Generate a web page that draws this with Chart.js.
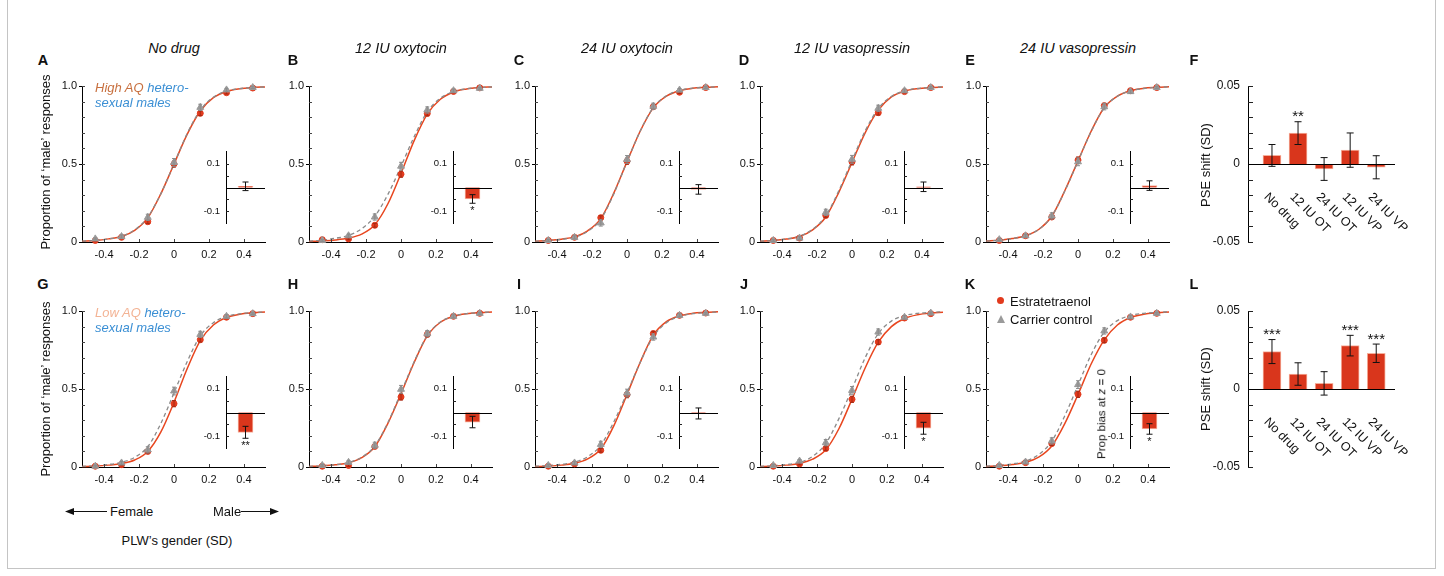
<!DOCTYPE html>
<html>
<head>
<meta charset="utf-8">
<script src="https://cdn.jsdelivr.net/npm/chart.js@4.4.1/dist/chart.umd.min.js"></script>
<style>
  body { margin: 0; background: #fff; }
  #fig { position: relative; width: 1444px; height: 576px; overflow: hidden;
         font-family: "Liberation Sans", Arial, Helvetica, sans-serif; color: #111; }
  #fig canvas { position: absolute; }
  .abs { position: absolute; white-space: nowrap; line-height: 1; }
  #frame { position: absolute; left: 7px; top: -2px; width: 1429px; height: 571px;
           border: 1px solid #c4c4c4; box-sizing: border-box; }
</style>
</head>
<body>
<div id="fig"><div id="frame"></div></div>
<script>
// ---- data ----
const panelIds = ["A", "B", "C", "D", "E", "G", "H", "I", "J", "K"];
const titles = ["No drug", "12 IU oxytocin", "24 IU oxytocin", "12 IU vasopressin", "24 IU vasopressin"];
const stimLevels = [-0.45, -0.3, -0.15, 0, 0.15, 0.3, 0.45];
const xTicks = [-0.4, -0.2, 0, 0.2, 0.4];
const yTicks = [0, 0.5, 1];
const yMinor = [0.1, 0.2, 0.3, 0.4, 0.5, 0.6, 0.7, 0.8, 0.9, 1];

// proportion 'male' at each stimulus level (estratetraenol / carrier), panels A..E, G..K
const redPoints = [
  [0.01, 0.03, 0.13, 0.50, 0.825, 0.957, 0.987],
  [0.015, 0.02, 0.107, 0.435, 0.824, 0.965, 0.988],
  [0.01, 0.03, 0.156, 0.518, 0.867, 0.96, 0.99],
  [0.01, 0.025, 0.17, 0.514, 0.829, 0.964, 0.99],
  [0.01, 0.04, 0.16, 0.525, 0.874, 0.97, 0.99],
  [0.005, 0.015, 0.10, 0.406, 0.816, 0.96, 0.983],
  [0.005, 0.01, 0.132, 0.449, 0.85, 0.966, 0.985],
  [0.005, 0.02, 0.107, 0.464, 0.855, 0.972, 0.987],
  [0.005, 0.02, 0.118, 0.434, 0.801, 0.955, 0.983],
  [0.005, 0.028, 0.15, 0.466, 0.812, 0.96, 0.985]
];
const grayPoints = [
  [0.02, 0.035, 0.158, 0.51, 0.863, 0.975, 0.99],
  [0.01, 0.04, 0.16, 0.486, 0.846, 0.97, 0.985],
  [0.01, 0.03, 0.122, 0.529, 0.87, 0.974, 0.99],
  [0.01, 0.025, 0.19, 0.53, 0.857, 0.97, 0.99],
  [0.015, 0.04, 0.167, 0.514, 0.867, 0.964, 0.99],
  [0.005, 0.026, 0.11, 0.487, 0.85, 0.966, 0.983],
  [0.01, 0.03, 0.139, 0.498, 0.855, 0.966, 0.985],
  [0.01, 0.026, 0.145, 0.474, 0.833, 0.972, 0.985],
  [0.01, 0.038, 0.156, 0.491, 0.865, 0.96, 0.987],
  [0.01, 0.032, 0.167, 0.528, 0.872, 0.962, 0.985]
];
const redErr = [0.004, 0.006, 0.012, 0.02, 0.015, 0.008, 0.004];
const grayErr = [0.006, 0.01, 0.02, 0.025, 0.02, 0.01, 0.006];

// fitted curves
const curveX = [-0.525, -0.45, -0.375, -0.3, -0.225, -0.15, -0.075, 0, 0.075, 0.15, 0.225, 0.3, 0.375, 0.45, 0.52];
const redCurves = [
  [0.005, 0.01, 0.02, 0.035, 0.075, 0.155, 0.31, 0.5, 0.69, 0.84, 0.925, 0.965, 0.982, 0.99, 0.994],
  [0.003, 0.007, 0.013, 0.025, 0.05, 0.11, 0.245, 0.44, 0.65, 0.82, 0.915, 0.962, 0.981, 0.99, 0.994],
  [0.005, 0.01, 0.018, 0.033, 0.072, 0.15, 0.315, 0.515, 0.71, 0.86, 0.935, 0.97, 0.985, 0.991, 0.995],
  [0.005, 0.01, 0.019, 0.035, 0.078, 0.16, 0.32, 0.51, 0.7, 0.845, 0.93, 0.967, 0.983, 0.99, 0.994],
  [0.006, 0.012, 0.022, 0.04, 0.08, 0.165, 0.33, 0.52, 0.71, 0.862, 0.935, 0.97, 0.985, 0.991, 0.995],
  [0.003, 0.006, 0.012, 0.022, 0.045, 0.1, 0.225, 0.415, 0.63, 0.81, 0.91, 0.958, 0.979, 0.988, 0.993],
  [0.003, 0.007, 0.014, 0.027, 0.06, 0.13, 0.28, 0.47, 0.67, 0.84, 0.928, 0.966, 0.983, 0.99, 0.994],
  [0.003, 0.006, 0.012, 0.024, 0.052, 0.115, 0.265, 0.465, 0.67, 0.845, 0.932, 0.969, 0.985, 0.991, 0.995],
  [0.003, 0.006, 0.012, 0.023, 0.05, 0.11, 0.245, 0.435, 0.635, 0.8, 0.9, 0.952, 0.976, 0.987, 0.992],
  [0.004, 0.008, 0.016, 0.03, 0.063, 0.135, 0.28, 0.465, 0.66, 0.815, 0.91, 0.958, 0.979, 0.988, 0.993]
];
const grayCurves = [
  [0.005, 0.01, 0.02, 0.036, 0.078, 0.16, 0.31, 0.5, 0.695, 0.845, 0.928, 0.967, 0.983, 0.99, 0.994],
  [0.006, 0.012, 0.024, 0.042, 0.085, 0.165, 0.305, 0.485, 0.675, 0.835, 0.922, 0.964, 0.982, 0.99, 0.994],
  [0.005, 0.009, 0.017, 0.031, 0.068, 0.145, 0.31, 0.515, 0.71, 0.862, 0.937, 0.972, 0.986, 0.992, 0.995],
  [0.005, 0.01, 0.02, 0.037, 0.082, 0.168, 0.33, 0.522, 0.712, 0.855, 0.933, 0.969, 0.984, 0.991, 0.995],
  [0.006, 0.012, 0.022, 0.04, 0.08, 0.165, 0.328, 0.518, 0.708, 0.86, 0.934, 0.969, 0.984, 0.991, 0.995],
  [0.004, 0.008, 0.016, 0.03, 0.062, 0.13, 0.28, 0.475, 0.675, 0.84, 0.925, 0.965, 0.982, 0.99, 0.994],
  [0.004, 0.008, 0.015, 0.028, 0.062, 0.135, 0.285, 0.478, 0.675, 0.843, 0.93, 0.967, 0.983, 0.99, 0.994],
  [0.005, 0.009, 0.017, 0.031, 0.066, 0.14, 0.29, 0.475, 0.67, 0.835, 0.925, 0.965, 0.983, 0.99, 0.994],
  [0.004, 0.008, 0.016, 0.03, 0.068, 0.15, 0.31, 0.5, 0.7, 0.855, 0.935, 0.97, 0.985, 0.991, 0.995],
  [0.005, 0.01, 0.02, 0.037, 0.08, 0.165, 0.33, 0.525, 0.72, 0.865, 0.938, 0.971, 0.985, 0.991, 0.995]
];

// inset: prop bias at z = 0
const insetBias = [0.005, -0.048, -0.008, 0.003, 0.008, -0.083, -0.04, -0.004, -0.066, -0.069];
const insetErr = [0.018, 0.018, 0.02, 0.02, 0.02, 0.025, 0.024, 0.023, 0.025, 0.022];
const insetStars = ["", "*", "", "", "", "**", "", "", "*", "*"];
const insetTicks = [-0.1, 0.1];
const insetMinor = [-0.1, -0.05, 0.05, 0.1];

// PSE shift panels F (high AQ) and L (low AQ)
const drugLabels = ["No drug", "12 IU OT", "24 IU OT", "12 IU VP", "24 IU VP"];
const pseHigh = [0.0055, 0.0198, -0.0032, 0.0089, -0.0021];
const pseHighErr = [0.007, 0.0073, 0.0073, 0.011, 0.0074];
const pseHighStars = ["", "**", "", "", ""];
const pseLow = [0.024, 0.0096, 0.0036, 0.0278, 0.0229];
const pseLowErr = [0.0077, 0.0072, 0.0075, 0.0066, 0.0059];
const pseLowStars = ["***", "", "", "***", "***"];
const pseTicks = [-0.05, 0, 0.05];
const pseMinor = [-0.05, -0.04, -0.03, -0.02, -0.01, 0.01, 0.02, 0.03, 0.04, 0.05];

// ---- style / layout ----
const RED = "#e23a1d";
const RED_LINE = "#e8461f";
const BAR_RED = "#d9361c";
const BAR_EDGE = "#f6b09c";
const GRAY = "#9a9a9a";
const GRAY_LINE = "#8a8a8a";
const FONT = "'Liberation Sans', Arial, Helvetica, sans-serif";

const colX = [82, 309, 535, 760, 986];
const rowTop = [86, 311];
const PLOT_W = 183, PLOT_H = 156;

Chart.defaults.font.family = FONT;
Chart.defaults.color = "#111";

const fig = document.getElementById("fig");

function addCanvas(left, top, w, h) {
  const cv = document.createElement("canvas");
  cv.width = w;
  cv.height = h;
  cv.style.left = left + "px";
  cv.style.top = top + "px";
  cv.style.width = w + "px";
  cv.style.height = h + "px";
  fig.appendChild(cv);
  return cv;
}

function addText(html, x, y, css) {
  const d = document.createElement("div");
  d.className = "abs";
  d.innerHTML = html;
  d.style.left = x + "px";
  d.style.top = y + "px";
  Object.assign(d.style, css || {});
  fig.appendChild(d);
  return d;
}

// error bars + significance stars from dataset.errs / dataset.stars
Chart.register({
  id: "errorBars",
  afterDatasetDraw(chart, args) {
    const ds = chart.data.datasets[args.index];
    if (!ds.errs) return;
    const ctx = chart.ctx;
    const ys = chart.scales.y;
    ctx.save();
    ctx.strokeStyle = ds.errColor || "#000";
    ctx.lineWidth = 1;
    args.meta.data.forEach((el, i) => {
      const raw = ds.data[i];
      const v = typeof raw === "object" ? raw.y : raw;
      const e = ds.errs[i];
      const y1 = ys.getPixelForValue(v + e);
      const y2 = ys.getPixelForValue(v - e);
      const x = el.x, c = ds.capW || 2;
      ctx.beginPath();
      ctx.moveTo(x, y1); ctx.lineTo(x, y2);
      ctx.moveTo(x - c, y1); ctx.lineTo(x + c, y1);
      ctx.moveTo(x - c, y2); ctx.lineTo(x + c, y2);
      ctx.stroke();
      if (ds.stars && ds.stars[i]) {
        const fs = ds.starSize || 12;
        ctx.fillStyle = "#111";
        ctx.font = fs + "px " + FONT;
        ctx.textAlign = "center";
        ctx.textBaseline = "alphabetic";
        const ty = v >= 0 ? y1 - 7 + 0.43 * fs : y2 + 3 + 0.72 * fs;
        ctx.fillText(ds.stars[i], x, ty);
      }
    });
    ctx.restore();
  }
});

// inward tick marks, zero line and rotated category labels
function extras(id, o) {
  return {
    id: id,
    afterDraw(chart) {
      const ctx = chart.ctx, a = chart.chartArea;
      ctx.save();
      ctx.lineWidth = 1;
      if (o.zero) {
        const y0 = Math.round(chart.scales.y.getPixelForValue(0)) + 0.5;
        ctx.strokeStyle = "#000";
        ctx.beginPath();
        ctx.moveTo(a.left, y0); ctx.lineTo(a.right, y0);
        ctx.stroke();
      }
      ctx.strokeStyle = o.tickColor || "#222";
      (o.yIn || []).forEach(v => {
        const y = Math.round(chart.scales.y.getPixelForValue(v)) + 0.5;
        ctx.beginPath();
        ctx.moveTo(a.left, y); ctx.lineTo(a.left + o.len, y);
        ctx.stroke();
      });
      (o.xIn || []).forEach(v => {
        const x = Math.round(chart.scales.x.getPixelForValue(v)) + 0.5;
        ctx.beginPath();
        ctx.moveTo(x, a.bottom); ctx.lineTo(x, a.bottom - o.len);
        ctx.stroke();
      });
      if (o.cats) {
        const y0 = chart.scales.y.getPixelForValue(0);
        ctx.fillStyle = "#111";
        ctx.font = "12.5px " + FONT;
        ctx.textAlign = "left";
        ctx.textBaseline = "middle";
        o.cats.forEach((lab, i) => {
          const x = chart.scales.x.getPixelForValue(i);
          ctx.save();
          ctx.translate(x - 6, y0 + 31);
          ctx.rotate(Math.PI / 4);
          ctx.fillText(lab, 0, 0);
          ctx.restore();
        });
      }
      ctx.restore();
    }
  };
}

const base = {
  responsive: false,
  animation: false,
  events: [],
  plugins: { legend: { display: false }, tooltip: { enabled: false } }
};

// ---- psychometric panels ----
panelIds.forEach((pid, p) => {
  const col = p % 5, row = p < 5 ? 0 : 1;
  const left = colX[col], top = rowTop[row];
  const pts = arr => stimLevels.map((x, i) => ({ x: x, y: arr[i] }));
  const crv = arr => curveX.map((x, i) => ({ x: x, y: arr[i] }));

  const cv = addCanvas(left - 34, top - 10, 34 + PLOT_W + 8, 10 + PLOT_H + 24);
  new Chart(cv, {
    type: "line",
    data: {
      datasets: [
        { data: pts(grayPoints[p]), showLine: false, pointStyle: "triangle", pointRadius: 4,
          backgroundColor: GRAY, borderColor: GRAY, borderWidth: 1, errs: grayErr,
          errColor: "#8c8c8c", capW: 2, order: 0, clip: false },
        { data: pts(redPoints[p]), showLine: false, pointStyle: "circle", pointRadius: 3,
          backgroundColor: RED, borderColor: RED, borderWidth: 1, errs: redErr,
          errColor: "#a52a14", capW: 2, order: 1, clip: false },
        { data: crv(grayCurves[p]), borderColor: GRAY_LINE, borderDash: [4, 3], borderWidth: 1.3,
          pointRadius: 0, cubicInterpolationMode: "monotone", order: 2, clip: false },
        { data: crv(redCurves[p]), borderColor: RED_LINE, borderWidth: 1.5,
          pointRadius: 0, cubicInterpolationMode: "monotone", order: 3, clip: false }
      ]
    },
    options: Object.assign({}, base, {
      layout: { padding: { top: 10, right: 8, left: 0, bottom: 0 } },
      scales: {
        x: {
          type: "linear", min: -0.526, max: 0.52,
          afterBuildTicks: s => { s.ticks = xTicks.map(v => ({ value: v })); },
          afterFit: s => { s.height = 24; },
          grid: { display: false, drawTicks: false },
          border: { display: true, color: "#000", width: 1 },
          ticks: { font: { size: 11 }, color: "#111", padding: 6, autoSkip: false, maxRotation: 0,
                   callback: v => String(v) }
        },
        y: {
          min: 0, max: 1,
          afterBuildTicks: s => { s.ticks = yTicks.map(v => ({ value: v })); },
          afterFit: s => { s.width = 34; },
          grid: { display: true, drawOnChartArea: false, drawTicks: true, tickLength: 3, color: "#000" },
          border: { display: true, color: "#000", width: 1 },
          ticks: { font: { size: 11 }, color: "#111", padding: 2,
                   callback: v => (v === 1 ? "1.0" : String(v)) }
        }
      }
    }),
    plugins: [extras("in" + pid, { xIn: xTicks, yIn: yMinor, len: 3, tickColor: "#444" })]
  });

  // inset bar
  const ic = addCanvas(left + 144 - 24, top + PLOT_H - 98.5 - 4, 24 + 39 + 1, 87 + 8);
  new Chart(ic, {
    type: "bar",
    data: {
      labels: [""],
      datasets: [{ data: [insetBias[p]], backgroundColor: BAR_RED, borderColor: BAR_EDGE,
                   borderWidth: 1, barThickness: 15, errs: [insetErr[p]], stars: [insetStars[p]],
                   starSize: 11, capW: 3, errColor: "#111" }]
    },
    options: Object.assign({}, base, {
      layout: { padding: { top: 4, bottom: 4, right: 1, left: 0 } },
      scales: {
        x: { display: false, offset: true },
        y: {
          min: -0.15, max: 0.15,
          afterBuildTicks: s => { s.ticks = insetTicks.map(v => ({ value: v })); },
          afterFit: s => { s.width = 24; },
          grid: { display: false, drawTicks: false },
          border: { display: true, color: "#000", width: 1 },
          ticks: { font: { size: 9.5 }, color: "#111", padding: 6, callback: v => String(v) }
        }
      }
    }),
    plugins: [extras("inset" + pid, { zero: true, yIn: insetMinor, len: 3 })]
  });
});

// ---- PSE shift bar panels ----
[[pseHigh, pseHighErr, pseHighStars], [pseLow, pseLowErr, pseLowStars]].forEach((set, row) => {
  const cv = addCanvas(1248 - 44, rowTop[row] - 18, 44 + 147 + 50, 18 + PLOT_H + 18);
  new Chart(cv, {
    type: "bar",
    data: {
      datasets: [{
        data: drugLabels.map((lab, i) => ({ x: i, y: set[0][i] })),
        backgroundColor: BAR_RED, borderColor: BAR_EDGE, borderWidth: 1, barThickness: 18,
        errs: set[1], stars: set[2], starSize: 15, capW: 3.5, errColor: "#111"
      }]
    },
    options: Object.assign({}, base, {
      layout: { padding: { top: 18, bottom: 18, right: 50, left: 0 } },
      scales: {
        x: { type: "linear", min: -0.92, max: 4.72, display: false, offset: false },
        y: {
          min: -0.05, max: 0.05,
          afterBuildTicks: s => { s.ticks = pseTicks.map(v => ({ value: v })); },
          afterFit: s => { s.width = 44; },
          grid: { display: false, drawTicks: false },
          border: { display: true, color: "#000", width: 1 },
          ticks: { font: { size: 12 }, color: "#111", padding: 8,
                   callback: v => (v === 0 ? "0" : v.toFixed(2)) }
        }
      }
    }),
    plugins: [extras("pse" + row, { zero: true, yIn: pseMinor, len: 5, cats: drugLabels })]
  });
});

// ---- text ----
const center = { transform: "translate(-50%,-50%)" };
const vmid = { transform: "translateY(-50%)" };
const rot = { transform: "translate(-50%,-50%) rotate(-90deg)" };

titles.forEach((t, i) => {
  addText(t, colX[i] + 92, 48, Object.assign({ fontStyle: "italic", fontSize: "14.5px" }, center));
});

const letterX = [43, 293, 519, 744, 970, 1194];
[["A", "B", "C", "D", "E", "F"], ["G", "H", "I", "J", "K", "L"]].forEach((row, r) => {
  row.forEach((l, i) => {
    addText(l, letterX[i], r === 0 ? 60 : 284,
            Object.assign({ fontWeight: "bold", fontSize: "14.5px" }, center));
  });
});

addText("Proportion of \u2018male\u2019 responses", 45, 162, Object.assign({ fontSize: "13px" }, rot));
addText("Proportion of \u2018male\u2019 responses", 45, 389, Object.assign({ fontSize: "13px" }, rot));
addText("PSE shift (SD)", 1205, 165, Object.assign({ fontSize: "13px" }, rot));
addText("PSE shift (SD)", 1205, 389, Object.assign({ fontSize: "13px" }, rot));
addText("Prop bias at <i>z</i> = 0", 1102, 414, Object.assign({ fontSize: "11.5px" }, rot));

const legendCss = Object.assign({ fontStyle: "italic", fontSize: "13px", color: "#3b8fd4" }, vmid);
addText('<span style="color:#c8703f">High AQ</span> hetero-', 95, 87, legendCss);
addText("sexual males", 95, 102, legendCss);
addText('<span style="color:#f3b394">Low AQ</span> hetero-', 95, 312, legendCss);
addText("sexual males", 95, 327, legendCss);

// marker legend in K
const dot = document.createElement("div");
Object.assign(dot.style, { position: "absolute", left: "997px", top: "297px", width: "7px", height: "7px",
                           borderRadius: "50%", background: RED });
fig.appendChild(dot);
const tri = document.createElement("div");
Object.assign(tri.style, { position: "absolute", left: "996.5px", top: "314.5px", width: "0", height: "0",
                           borderLeft: "4.5px solid transparent", borderRight: "4.5px solid transparent",
                           borderBottom: "8px solid " + GRAY });
fig.appendChild(tri);
addText("Estratetraenol", 1010, 301, Object.assign({ fontSize: "13px" }, vmid));
addText("Carrier control", 1010, 319, Object.assign({ fontSize: "13px" }, vmid));

// gender direction arrows
addText("Female", 110, 511, Object.assign({ fontSize: "13px" }, vmid));
addText("Male", 213, 511, Object.assign({ fontSize: "13px" }, vmid));
addText("PLW\u2019s gender (SD)", 177, 540, Object.assign({ fontSize: "13px" }, center));
const svgNS = "http://www.w3.org/2000/svg";
const svg = document.createElementNS(svgNS, "svg");
svg.setAttribute("width", "300");
svg.setAttribute("height", "30");
svg.style.position = "absolute";
svg.style.left = "0px";
svg.style.top = "496px";
svg.innerHTML =
  '<line x1="70" y1="15.5" x2="107" y2="15.5" stroke="#111" stroke-width="1.2"/>' +
  '<polygon points="65,15.5 74,12 74,19" fill="#111"/>' +
  '<line x1="241" y1="15.5" x2="274" y2="15.5" stroke="#111" stroke-width="1.2"/>' +
  '<polygon points="279,15.5 270,12 270,19" fill="#111"/>';
fig.appendChild(svg);
</script>
</body>
</html>
